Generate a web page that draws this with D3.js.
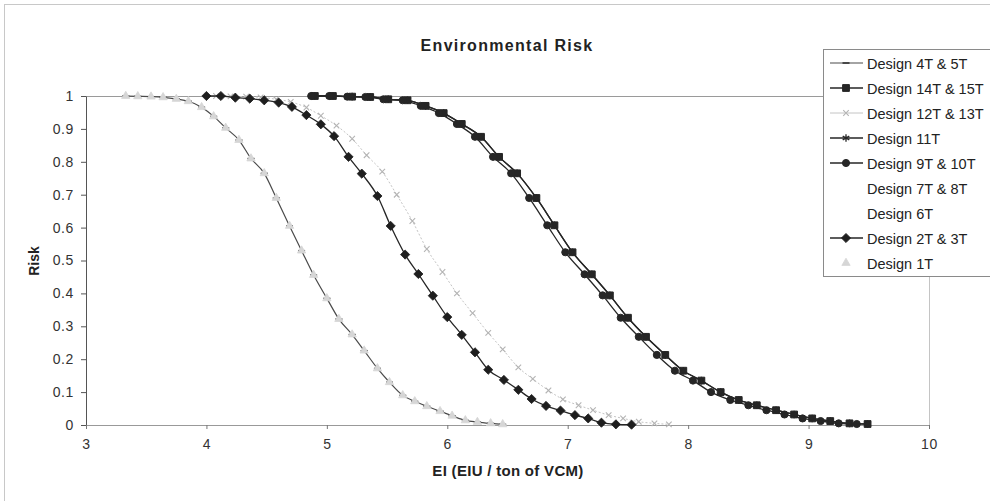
<!DOCTYPE html>
<html>
<head>
<meta charset="utf-8">
<script src="https://cdn.jsdelivr.net/npm/d3@7"></script>
<style>
  body { margin: 0; background: #fff; }
  svg { display: block; font-family: "Liberation Sans", Arial, sans-serif; }
</style>
</head>
<body>
<svg id="chart" width="990" height="501"></svg>
<script>
// ---- data ----
const xTicks = [3, 4, 5, 6, 7, 8, 9, 10];
const yTicks = [0, 0.1, 0.2, 0.3, 0.4, 0.5, 0.6, 0.7, 0.8, 0.9, 1];

const seriesNames = ["Design 4T & 5T", "Design 14T & 15T", "Design 12T & 13T", "Design 11T",
  "Design 9T & 10T", "Design 7T & 8T", "Design 6T", "Design 2T & 3T", "Design 1T"];

const x4T5T = [3.33,3.43,3.54,3.64,3.75,3.85,3.96,4.06,4.16,4.27,4.37,4.48,4.58,4.69,4.79,4.89,5.00,5.10,5.21,5.31,5.42,5.52,5.63,5.73,5.83,5.94,6.04,6.15,6.25,6.36,6.46];
const y4T5T = [1.0,0.999,0.998,0.996,0.991,0.984,0.966,0.938,0.903,0.866,0.810,0.765,0.690,0.605,0.530,0.456,0.385,0.322,0.275,0.226,0.172,0.130,0.090,0.072,0.057,0.042,0.028,0.014,0.009,0.005,0.002];

const x14T15T = [4.90,5.05,5.21,5.36,5.51,5.67,5.82,5.97,6.12,6.28,6.43,6.58,6.74,6.89,7.04,7.20,7.35,7.50,7.65,7.81,7.96,8.11,8.27,8.42,8.57,8.73,8.88,9.03,9.18,9.34,9.49];
const y14T15T = [1.0,1.0,0.998,0.997,0.990,0.987,0.970,0.948,0.915,0.876,0.815,0.765,0.690,0.607,0.525,0.458,0.394,0.326,0.268,0.213,0.165,0.135,0.100,0.076,0.060,0.045,0.032,0.020,0.012,0.005,0.003];

const x12T13T = [4.08,4.20,4.33,4.45,4.58,4.70,4.83,4.95,5.08,5.21,5.33,5.46,5.58,5.71,5.83,5.96,6.08,6.21,6.34,6.46,6.59,6.71,6.84,6.96,7.09,7.21,7.34,7.46,7.59,7.72,7.84];
const y12T13T = [1.0,0.999,0.998,0.996,0.990,0.982,0.965,0.940,0.910,0.870,0.820,0.770,0.700,0.620,0.535,0.465,0.400,0.340,0.280,0.230,0.175,0.140,0.105,0.078,0.060,0.045,0.030,0.020,0.010,0.005,0.002];

const x11T = [4.90,5.05,5.21,5.36,5.51,5.67,5.82,5.97,6.12,6.28,6.43,6.58,6.74,6.89,7.04,7.20,7.35,7.50,7.65,7.81,7.96,8.11,8.27,8.42,8.57,8.73,8.88,9.03,9.18,9.34,9.49];
const y11T = [1.0,1.0,0.998,0.997,0.990,0.987,0.970,0.948,0.915,0.876,0.815,0.765,0.690,0.607,0.525,0.458,0.394,0.326,0.268,0.213,0.165,0.135,0.100,0.076,0.060,0.045,0.032,0.020,0.012,0.005,0.003];

const x9T10T = [4.87,5.02,5.17,5.32,5.47,5.63,5.78,5.93,6.08,6.23,6.38,6.53,6.68,6.83,6.98,7.14,7.29,7.44,7.59,7.74,7.89,8.04,8.19,8.35,8.50,8.65,8.80,8.95,9.10,9.25,9.40];
const y9T10T = [1.0,1.0,0.998,0.997,0.990,0.987,0.970,0.948,0.915,0.876,0.815,0.765,0.690,0.607,0.525,0.458,0.394,0.326,0.268,0.213,0.165,0.135,0.100,0.076,0.060,0.045,0.032,0.020,0.012,0.005,0.003];

const x7T8T = [];
const y7T8T = [];
const x6T = [];
const y6T = [];

const x2T3T = [4.00,4.12,4.24,4.36,4.48,4.60,4.71,4.83,4.95,5.06,5.18,5.29,5.42,5.53,5.65,5.76,5.88,6.00,6.12,6.23,6.34,6.47,6.59,6.70,6.82,6.94,7.06,7.17,7.28,7.40,7.53];
const y2T3T = [1.0,1.0,0.995,0.992,0.987,0.980,0.967,0.942,0.914,0.878,0.815,0.764,0.696,0.605,0.518,0.459,0.393,0.328,0.274,0.221,0.168,0.137,0.107,0.079,0.058,0.044,0.030,0.020,0.007,0.002,0.001];

const x1T = [3.33,3.43,3.54,3.64,3.75,3.85,3.96,4.06,4.16,4.27,4.37,4.48,4.58,4.69,4.79,4.89,5.00,5.10,5.21,5.31,5.42,5.52,5.63,5.73,5.83,5.94,6.04,6.15,6.25,6.36,6.46];
const y1T = [1.0,0.999,0.998,0.996,0.991,0.984,0.966,0.938,0.903,0.866,0.810,0.765,0.690,0.605,0.530,0.456,0.385,0.322,0.275,0.226,0.172,0.130,0.090,0.072,0.057,0.042,0.028,0.014,0.009,0.005,0.002];

// ---- series styling ----
const dashMarker = "M-3.5,0H3.5";
const diamondMarker = "M0,-4.6L4.6,0L0,4.6L-4.6,0Z";
const styles = [
  { line: "#4a4a4a", width: 1.2, marker: dashMarker, mFill: "none", mStroke: "#222", mWidth: 1.4 },
  { line: "#262626", width: 1.3, marker: d3.symbol(d3.symbolSquare, 46)(), mFill: "#262626", mStroke: "#262626", mWidth: 1 },
  { line: "#c4c4c4", width: 1.0, marker: d3.symbol(d3.symbolX, 22)(), mFill: "none", mStroke: "#b4b4b4", mWidth: 1.1, dash: "2,2" },
  { line: "#262626", width: 1.3, marker: d3.symbol(d3.symbolAsterisk, 40)(), mFill: "none", mStroke: "#262626", mWidth: 1.3 },
  { line: "#262626", width: 1.3, marker: d3.symbol(d3.symbolCircle, 40)(), mFill: "#262626", mStroke: "#262626", mWidth: 1 },
  { line: "none" },
  { line: "none" },
  { line: "#262626", width: 1.3, marker: diamondMarker, mFill: "#1e1e1e", mStroke: "#1e1e1e", mWidth: 0.8 },
  { line: "none", marker: d3.symbol(d3.symbolTriangle, 30)(), mFill: "#d6d6d6", mStroke: "#d6d6d6", mWidth: 0.8 }
];

const seriesX = [x4T5T, x14T15T, x12T13T, x11T, x9T10T, x7T8T, x6T, x2T3T, x1T];
const seriesY = [y4T5T, y14T15T, y12T13T, y11T, y9T10T, y7T8T, y6T, y2T3T, y1T];

// ---- layout ----
const svg = d3.select("#chart");
const x = d3.scaleLinear().domain([3, 10]).range([86, 929]);
const y = d3.scaleLinear().domain([0, 1]).range([425, 96]);

// outer chart frame
svg.append("rect").attr("x", 4.5).attr("y", 4.5).attr("width", 1000).attr("height", 600)
  .attr("fill", "#fff").attr("stroke", "#c8c8c8");

// plot area border (top and right)
svg.append("line").attr("x1", x(3)).attr("x2", x(10)).attr("y1", y(1) + 0.5).attr("y2", y(1) + 0.5)
  .attr("stroke", "#9a9a9a");
svg.append("line").attr("x1", x(10) + 0.5).attr("x2", x(10) + 0.5).attr("y1", y(1)).attr("y2", y(0))
  .attr("stroke", "#c4c4c4");

// axes
const yAxis = svg.append("g").attr("transform", `translate(${x(3)},0)`)
  .call(d3.axisLeft(y).tickValues(yTicks).tickFormat(d3.format("~g")).tickSize(5).tickSizeOuter(0).tickPadding(7));
yAxis.select(".domain").attr("stroke", "#555");
yAxis.selectAll(".tick line").attr("stroke", "#555");
yAxis.selectAll("text").attr("font-size", 14).attr("fill", "#333").attr("letter-spacing", 0.6)
  .attr("font-family", "'Liberation Sans', Arial, sans-serif");

const xAxis = svg.append("g").attr("transform", `translate(0,${y(0)})`)
  .call(d3.axisBottom(x).tickValues(xTicks).tickFormat(d3.format("d")).tickSize(4).tickSizeOuter(0).tickPadding(10));
xAxis.select(".domain").attr("stroke", "#999");
xAxis.selectAll(".tick line").attr("stroke", "#777");
xAxis.selectAll("text").attr("font-size", 14).attr("fill", "#333").attr("letter-spacing", 0.6)
  .attr("font-family", "'Liberation Sans', Arial, sans-serif");

// series
const line = d3.line().curve(d3.curveMonotoneX).x(d => x(d[0])).y(d => y(d[1]));
const plot = svg.append("g");
seriesNames.forEach((name, i) => {
  const st = styles[i];
  const pts = seriesX[i].map((v, j) => [v, seriesY[i][j]]);
  if (!pts.length) return;
  if (st.line !== "none") {
    plot.append("path").datum(pts).attr("d", line).attr("fill", "none")
      .attr("stroke", st.line).attr("stroke-width", st.width)
      .attr("stroke-dasharray", st.dash || null);
  }
  if (st.marker) {
    plot.append("g").selectAll("path").data(pts).join("path")
      .attr("transform", d => `translate(${x(d[0])},${y(d[1])})`)
      .attr("d", st.marker).attr("fill", st.mFill).attr("stroke", st.mStroke)
      .attr("stroke-width", st.mWidth);
  }
});

// title and axis titles
svg.append("text").attr("x", 507).attr("y", 51).attr("text-anchor", "middle")
  .attr("font-size", 16).attr("font-weight", "bold").attr("letter-spacing", 1.3).attr("fill", "#222")
  .text("Environmental Risk");
svg.append("text").attr("x", 508).attr("y", 476).attr("text-anchor", "middle")
  .attr("font-size", 15).attr("font-weight", "bold").attr("letter-spacing", 0.3).attr("fill", "#222")
  .text("EI (EIU / ton of VCM)");
svg.append("text").attr("transform", "translate(39,261) rotate(-90)").attr("text-anchor", "middle")
  .attr("font-size", 14).attr("font-weight", "bold").attr("fill", "#222")
  .text("Risk");

// legend
const legend = svg.append("g");
legend.append("rect").attr("x", 823.5).attr("y", 49.5).attr("width", 200).attr("height", 227)
  .attr("fill", "#fff").attr("stroke", "#8a8a8a");
seriesNames.forEach((name, i) => {
  const st = styles[i];
  const cy = 63 + i * 25;
  const row = legend.append("g").attr("transform", `translate(0,${cy})`);
  if (st.line !== "none") {
    row.append("line").attr("x1", 830).attr("x2", 863).attr("y1", 0).attr("y2", 0)
      .attr("stroke", st.line).attr("stroke-width", st.width);
  }
  if (st.marker) {
    row.append("path").attr("transform", "translate(846,0)").attr("d", st.marker)
      .attr("fill", st.mFill).attr("stroke", st.mStroke).attr("stroke-width", st.mWidth);
  }
  row.append("text").attr("x", 867).attr("y", 5.5).attr("font-size", 14.5)
    .attr("fill", "#222").text(name);
});
</script>
</body>
</html>
